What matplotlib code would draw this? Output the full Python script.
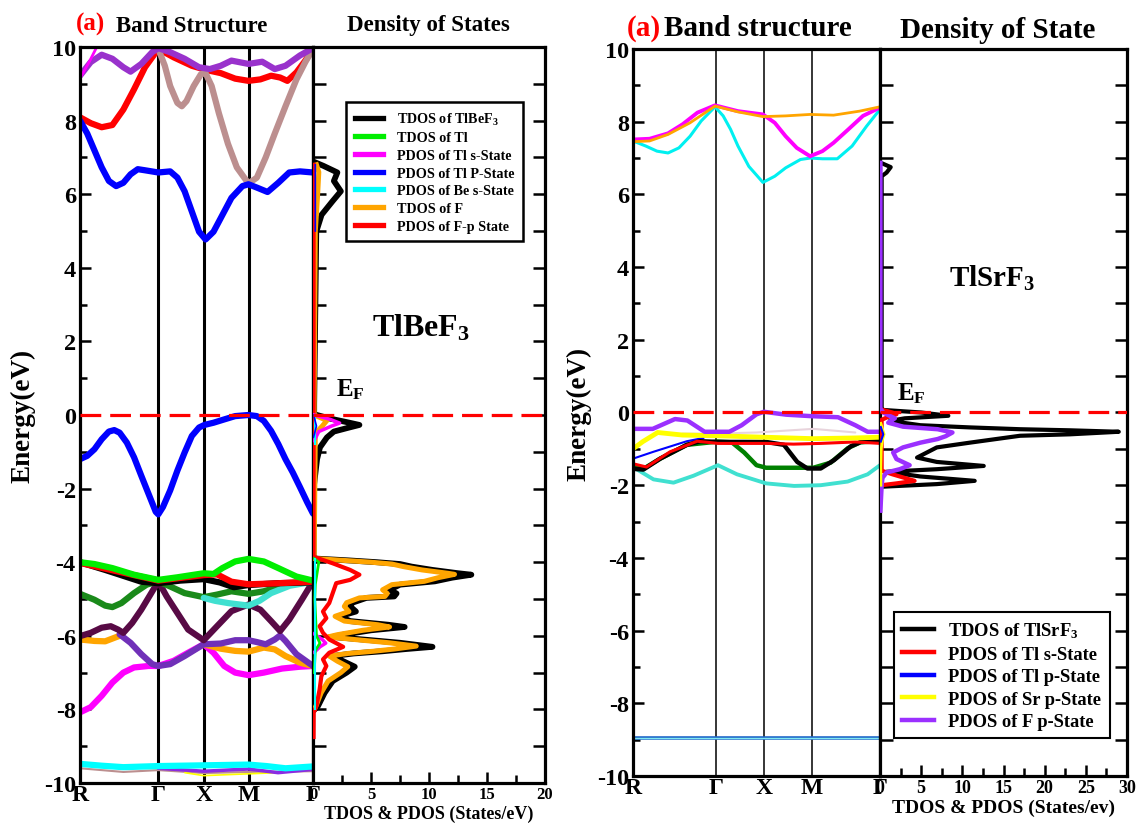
import numpy as np
import matplotlib
matplotlib.use('Agg')
import matplotlib.pyplot as plt
from matplotlib.lines import Line2D
from matplotlib.ticker import MultipleLocator

plt.rcParams['font.family'] = ['Liberation Serif', 'DejaVu Serif']
plt.rcParams['font.weight'] = 'bold'
plt.rcParams['axes.labelweight'] = 'bold'
plt.rcParams['mathtext.fontset'] = 'custom'
plt.rcParams['mathtext.rm'] = 'Liberation Serif:bold'
plt.rcParams['mathtext.it'] = 'Liberation Serif:bold'
plt.rcParams['mathtext.bf'] = 'Liberation Serif:bold'
plt.rcParams['mathtext.default'] = 'rm'

# high symmetry path (fraction of total path length)
kpath_pos = [0.0, 0.336, 0.531, 0.725, 1.0]
kpath_lab = ['R', 'Γ', 'X', 'M', 'Γ']
energy_ticks = [-10, -8, -6, -4, -2, 0, 2, 4, 6, 8, 10]

# ---------------- TlBeF3 bands (k, E) ----------------
be_purple_top = [(0, 9.22), (0.046, 9.59), (0.093, 9.79), (0.139, 9.68), (0.186, 9.45), (0.217, 9.33), (0.263, 9.54),
                 (0.31, 9.86), (0.336, 9.97), (0.387, 9.86), (0.449, 9.68), (0.511, 9.45), (0.557, 9.4), (0.604, 9.49),
                 (0.65, 9.63), (0.723, 9.54), (0.782, 9.6), (0.836, 9.4), (0.882, 9.49), (0.944, 9.77), (1.0, 9.97)]
be_red_top = [(0, 8.09), (0.046, 7.93), (0.093, 7.82), (0.139, 7.88), (0.186, 8.3), (0.232, 8.85), (0.279, 9.45),
              (0.336, 9.95), (0.402, 9.72), (0.48, 9.49), (0.539, 9.38), (0.604, 9.29), (0.666, 9.14), (0.723, 9.08),
              (0.774, 9.12), (0.82, 9.22), (0.859, 9.17), (0.89, 9.08), (0.929, 9.31), (0.967, 9.63), (1.0, 9.95)]
be_brown = [(0.336, 9.95), (0.364, 9.49), (0.387, 8.94), (0.418, 8.48), (0.437, 8.39), (0.457, 8.53), (0.488, 8.94),
            (0.519, 9.26), (0.539, 9.29), (0.565, 8.94), (0.596, 8.2), (0.635, 7.37), (0.673, 6.73), (0.723, 6.29),
            (0.759, 6.45), (0.797, 7.0), (0.836, 7.65), (0.882, 8.39), (0.929, 9.12), (0.967, 9.59), (1.0, 9.95)]
be_magenta_top = [(0, 9.15), (0.04, 9.6), (0.08, 10.1)]
be_blue_cb = [(0, 8.0), (0.031, 7.65), (0.062, 7.19), (0.093, 6.73), (0.124, 6.36), (0.155, 6.22), (0.186, 6.31),
              (0.217, 6.54), (0.248, 6.68), (0.279, 6.65), (0.336, 6.59), (0.387, 6.62), (0.418, 6.45),
              (0.449, 6.08), (0.48, 5.53), (0.511, 4.98), (0.539, 4.77), (0.573, 4.98), (0.604, 5.35), (0.65, 5.9),
              (0.697, 6.22), (0.723, 6.27), (0.759, 6.18), (0.805, 6.06), (0.851, 6.31), (0.898, 6.59),
              (0.944, 6.62), (1.0, 6.59)]
be_blue_vb = [(0, -1.2), (0.031, -1.11), (0.062, -0.93), (0.093, -0.66), (0.124, -0.45), (0.147, -0.41),
              (0.17, -0.48), (0.201, -0.75), (0.232, -1.15), (0.263, -1.65), (0.294, -2.14), (0.325, -2.63),
              (0.336, -2.7), (0.356, -2.5), (0.387, -2.05), (0.418, -1.51), (0.449, -1.02), (0.48, -0.57),
              (0.511, -0.34), (0.534, -0.27), (0.573, -0.21), (0.619, -0.12), (0.666, -0.03), (0.723, 0.0),
              (0.759, -0.03), (0.789, -0.16), (0.82, -0.43), (0.851, -0.79), (0.882, -1.2), (0.913, -1.56),
              (0.944, -1.96), (0.975, -2.37), (1.0, -2.68)]
be_lime = [(0, -4.0), (0.062, -4.05), (0.139, -4.16), (0.232, -4.34), (0.336, -4.48), (0.418, -4.41), (0.531, -4.3),
           (0.573, -4.32), (0.611, -4.16), (0.666, -3.98), (0.723, -3.91), (0.789, -3.98), (0.851, -4.16),
           (0.929, -4.39), (1.0, -4.5)]
be_black = [(0, -4.0), (0.108, -4.21), (0.263, -4.53), (0.336, -4.57), (0.43, -4.5), (0.531, -4.46), (0.6, -4.55),
            (0.66, -4.68), (0.723, -4.62), (0.85, -4.57), (1.0, -4.55)]
be_red_vb = [(0, -4.02), (0.336, -4.5), (0.531, -4.35), (0.588, -4.33), (0.65, -4.53), (0.723, -4.6), (0.82, -4.58),
             (1.0, -4.53)]
be_dkgreen = [(0, -4.86), (0.062, -5.02), (0.108, -5.18), (0.139, -5.22), (0.178, -5.11), (0.232, -4.84),
              (0.286, -4.61), (0.336, -4.52), (0.387, -4.66), (0.449, -4.84), (0.531, -4.95), (0.588, -4.88),
              (0.65, -4.79), (0.723, -4.86), (0.789, -4.79), (0.867, -4.64), (0.944, -4.55), (1.0, -4.52)]
be_turq = [(0.531, -4.97), (0.58, -5.05), (0.635, -5.11), (0.723, -5.18), (0.77, -5.05), (0.82, -4.84),
           (0.9, -4.64), (1.0, -4.53)]
be_maroon = [(0, -6.01), (0.046, -5.92), (0.093, -5.78), (0.132, -5.74), (0.163, -5.83), (0.186, -5.92),
             (0.224, -5.65), (0.263, -5.29), (0.302, -4.88), (0.336, -4.52), (0.372, -4.93), (0.418, -5.38),
             (0.464, -5.83), (0.531, -6.12), (0.588, -5.74), (0.65, -5.33), (0.723, -5.15), (0.774, -5.29),
             (0.82, -5.6), (0.859, -5.87), (0.898, -5.56), (0.952, -5.02), (1.0, -4.52)]
be_orange_a = [(0, -6.1), (0.062, -6.14), (0.108, -6.15), (0.17, -6.0)]
be_orange_b = [(0.531, -6.23), (0.604, -6.35), (0.666, -6.41), (0.723, -6.43), (0.789, -6.32), (0.836, -6.37),
               (0.882, -6.55), (0.944, -6.73), (1.0, -6.82)]
be_purple = [(0.17, -5.96), (0.217, -6.19), (0.263, -6.5), (0.31, -6.77), (0.336, -6.82), (0.387, -6.77),
             (0.449, -6.55), (0.531, -6.23), (0.604, -6.21), (0.666, -6.12), (0.723, -6.12), (0.759, -6.17),
             (0.797, -6.23), (0.836, -6.1), (0.859, -5.99), (0.882, -6.14), (0.929, -6.5), (1.0, -6.82)]
be_magenta = [(0, -8.08), (0.046, -7.94), (0.093, -7.63), (0.139, -7.27), (0.186, -7.0), (0.232, -6.86),
              (0.294, -6.82), (0.336, -6.82), (0.402, -6.68), (0.464, -6.46), (0.531, -6.23), (0.573, -6.46),
              (0.619, -6.82), (0.666, -7.0), (0.723, -7.07), (0.789, -7.0), (0.867, -6.89), (0.944, -6.84),
              (1.0, -6.82)]
be_cyan = [(0, -9.48), (0.093, -9.53), (0.186, -9.57), (0.336, -9.54), (0.531, -9.52), (0.723, -9.5), (0.8, -9.54),
           (0.882, -9.6), (1.0, -9.55)]
be_brown_low = [(0, -9.6), (0.186, -9.7), (0.336, -9.65), (0.531, -9.73), (0.723, -9.7), (1.0, -9.68)]
be_purple_low = [(0.336, -9.6), (0.531, -9.68), (0.723, -9.62), (0.85, -9.72), (1.0, -9.63)]
be_yellow_low = [(0.45, -9.72), (0.531, -9.8), (0.723, -9.75), (0.85, -9.72)]

# ---------------- TlBeF3 DOS (E, states/eV) ----------------
be_tdos_e = [6.85, 6.77, 6.59, 6.36, 6.08, 5.8, 5.44, 4.98, 0.3, 0.02, -0.1, -0.2, -0.27, -0.35, -0.45, -0.61,
             -0.88, -1.2, -1.6, -2.0, -3.85, -3.9, -3.95, -4.0, -4.05, -4.12, -4.21, -4.3, -4.34, -4.42, -4.52,
             -4.61, -4.75, -4.85, -4.93, -4.97, -5.1, -5.2, -5.34, -5.47, -5.6, -5.7, -5.76, -5.85, -5.97, -6.03,
             -6.12, -6.19, -6.3, -6.36, -6.42, -6.48, -6.55, -6.69, -6.84, -7.0, -7.23, -7.55, -7.91, -8.0]
be_tdos_v = [0.3, 0.9, 2.1, 1.8, 2.4, 1.66, 0.74, 0.28, 0.1, 0.1, 1.5, 3.0, 4.0, 3.0, 1.8, 1.2,
             0.6, 0.35, 0.2, 0.05, 0.05, 0.1, 3.0, 5.5, 7.5, 8.5, 10.3, 12.5, 13.65, 12.0, 10.5,
             7.5, 6.6, 7.2, 7.0, 4.6, 3.4, 3.2, 3.7, 2.3, 3.2, 6.5, 7.9, 5.0, 2.6, 1.7,
             5.0, 7.5, 10.3, 8.0, 6.0, 3.5, 1.7, 2.6, 3.6, 2.9, 1.7, 1.0, 0.43, 0.14]
be_fdos_e = [6.8, 6.6, 6.0, 5.0, 0.3, 0.0, -0.15, -0.3, -0.5, -3.85, -3.9, -3.95, -4.0, -4.05, -4.12, -4.21,
             -4.3, -4.33, -4.42, -4.52, -4.61, -4.75, -4.85, -4.93, -4.97, -5.1, -5.2, -5.34, -5.47, -5.6, -5.7,
             -5.76, -5.85, -5.97, -6.03, -6.12, -6.19, -6.28, -6.36, -6.42, -6.48, -6.55, -6.69, -6.84, -7.0,
             -7.23, -7.55, -7.91, -8.0]
be_fdos_v = [0.3, 0.5, 0.4, 0.2, 0.1, 0.1, 1.2, 0.8, 0.2, 0.1, 0.1, 2.6, 5.0, 6.8, 7.8, 9.4,
             11.6, 12.2, 10.8, 9.6, 6.8, 6.0, 6.4, 6.2, 4.0, 2.9, 2.7, 3.1, 1.9, 2.7, 5.6,
             6.6, 4.3, 2.1, 1.3, 4.2, 6.6, 8.9, 7.0, 5.2, 3.0, 1.4, 2.1, 3.0, 2.4,
             1.3, 0.7, 0.25, 0.1]
be_fp_e = [6.8, -3.85, -3.94, -4.03, -4.21, -4.34, -4.48, -4.57, -4.84, -5.11, -5.34, -5.52, -5.74, -5.92, -6.1,
           -6.3, -6.46, -6.64, -6.82, -7.1, -7.46, -7.91, -8.09, -8.75]
be_fp_v = [0.05, 0.05, 0.86, 1.7, 3.2, 4.0, 3.2, 2.0, 1.7, 1.4, 0.86, 1.15, 0.57, 0.86, 1.4,
           2.6, 1.4, 0.86, 1.15, 0.72, 0.57, 0.29, 0.06, 0.05]
be_tls_e = [0.0, -0.12, -0.22, -0.3, -0.45, -0.7, np.nan, -5.95, -6.1, -6.2, -6.3, -6.45]
be_tls_v = [0.1, 1.5, 2.3, 1.6, 0.5, 0.1, np.nan, 0.1, 0.8, 1.1, 0.6, 0.1]
be_tl_e = [-3.9, -4.0, -4.2, -4.4, -4.6, -5.0, -6.0, -6.2, -6.4, -7.0]
be_tl_v = [0.1, 0.5, 0.4, 0.3, 0.2, 0.15, 0.3, 0.6, 0.2, 0.1]
be_bes_e = [0.0, -0.8, np.nan, -3.9, -8.0]
be_bes_v = [0.15, 0.15, np.nan, 0.15, 0.15]
be_tlp_e = [6.8, 5.0, np.nan, 0.0, -0.3, -0.6]
be_tlp_v = [0.2, 0.2, np.nan, 0.05, 0.3, 0.05]

be_leg_labels = ['TDOS of TlBeF$_3$', 'TDOS of Tl', 'PDOS of Tl s-State', 'PDOS of Tl P-State',
                 'PDOS of Be s-State', 'TDOS of F', 'PDOS of F-p State']
be_leg_colors = ['black', '#00ee00', '#ff00ff', '#0000ff', '#00ffff', '#ffa500', '#ff0000']

# ---------------- TlSrF3 bands (k, E) ----------------
sr_magenta = [(0, 7.51), (0.067, 7.53), (0.142, 7.68), (0.201, 7.93), (0.261, 8.25), (0.332, 8.45), (0.425, 8.29),
              (0.526, 8.2), (0.574, 7.97), (0.618, 7.6), (0.663, 7.28), (0.717, 7.05), (0.767, 7.19), (0.812, 7.42),
              (0.872, 7.79), (0.931, 8.16), (1.0, 8.39)]
sr_orange = [(0, 7.45), (0.067, 7.47), (0.142, 7.65), (0.231, 7.97), (0.332, 8.43), (0.425, 8.27), (0.526, 8.14),
             (0.618, 8.16), (0.717, 8.2), (0.812, 8.18), (0.917, 8.29), (1.0, 8.41)]
sr_cyan = [(0, 7.47), (0.052, 7.33), (0.097, 7.19), (0.142, 7.14), (0.186, 7.28), (0.231, 7.6), (0.276, 8.02),
           (0.332, 8.41), (0.365, 8.16), (0.395, 7.79), (0.425, 7.33), (0.469, 6.77), (0.526, 6.33), (0.574, 6.5),
           (0.618, 6.73), (0.678, 6.96), (0.717, 7.0), (0.767, 6.98), (0.827, 6.98), (0.887, 7.33), (0.946, 7.88),
           (1.0, 8.34)]
sr_purple = [(0, -0.45), (0.08, -0.45), (0.17, -0.18), (0.22, -0.22), (0.29, -0.53), (0.39, -0.53), (0.44, -0.35),
             (0.5, -0.05), (0.53, 0.02), (0.62, -0.06), (0.72, -0.1), (0.83, -0.13), (0.9, -0.35), (0.95, -0.53),
             (1.0, -0.53)]
sr_yellow = [(0, -1.0), (0.04, -0.8), (0.1, -0.55), (0.2, -0.62), (0.34, -0.64), (0.53, -0.68), (0.73, -0.72),
             (0.9, -0.7), (1.0, -0.68)]
sr_faint = [(0.2, -0.58), (0.34, -0.58), (0.5, -0.55), (0.73, -0.45), (0.9, -0.55)]
sr_black = [(0, -1.55), (0.042, -1.57), (0.11, -1.27), (0.218, -0.89), (0.272, -0.79), (0.344, -0.81),
            (0.539, -0.81), (0.611, -0.89), (0.665, -1.36), (0.706, -1.54), (0.76, -1.54), (0.814, -1.31),
            (0.882, -0.93), (0.923, -0.81), (1.0, -0.79)]
sr_red = [(0, -1.41), (0.055, -1.5), (0.15, -1.08), (0.26, -0.79), (0.344, -0.85), (0.539, -0.85), (0.65, -0.87),
          (0.76, -0.85), (0.9, -0.81), (1.0, -0.85)]
sr_blue = [(0, -1.27), (0.083, -1.08), (0.218, -0.79), (0.286, -0.7)]
sr_green = [(0, -1.5), (0.042, -1.55), (0.11, -1.27), (0.218, -0.89), (0.344, -0.8), (0.4, -0.82), (0.45, -1.1),
            (0.5, -1.45), (0.539, -1.52), (0.73, -1.52), (0.8, -1.38), (0.87, -0.98), (0.92, -0.82), (1.0, -0.79)]
sr_turq = [(0, -1.5), (0.083, -1.84), (0.164, -1.93), (0.245, -1.74), (0.344, -1.45), (0.421, -1.7), (0.539, -1.95),
           (0.652, -2.02), (0.76, -2.0), (0.869, -1.9), (0.95, -1.7), (1.0, -1.45)]
sr_flat = [(0, -8.95), (1.0, -8.95)]

# ---------------- TlSrF3 DOS (E, states/eV) ----------------
sr_tdos_e = [6.85, 6.75, 6.6, 6.5, 0.12, 0.07, 0.0, -0.09, -0.16, -0.23, -0.35, -0.41, -0.46, -0.49, -0.53, -0.6,
             -0.64, -0.83, -0.96, -1.24, -1.36, -1.47, -1.56, -1.63, -1.76, -1.88, -1.97, -2.04]
sr_tdos_v = [0.3, 1.3, 0.8, 0.2, 0.2, 0.4, 5.0, 8.3, 3.0, 1.2, 4.9, 10.9, 17.0, 23.1, 29.0, 23.1,
             17.0, 10.9, 6.9, 4.5, 6.9, 12.6, 6.9, 0.8, 4.9, 11.5, 6.9, 0.4]
sr_fp_e = [6.87, 0.1, 0.0, -0.05, -0.16, -0.28, -0.39, -0.46, -0.55, -0.65, -0.73, -0.83, -0.96, -1.1, -1.28,
           -1.45, -1.56, -1.65, -1.8, -2.0, -2.7]
sr_fp_v = [0.05, 0.05, 0.4, 0.8, 1.8, 1.0, 2.8, 7.0, 8.8, 8.0, 7.0, 4.9, 2.8, 1.6, 2.0,
           3.6, 2.4, 0.8, 0.3, 0.2, 0.05]
sr_tls_e = [0.08, 0.0, -0.05, -0.12, -0.2, -1.6, -1.7, -1.8, -1.88, -1.95, -2.0]
sr_tls_v = [0.2, 1.5, 2.0, 1.0, 0.2, 0.2, 1.5, 3.0, 4.2, 2.0, 0.2]
sr_srp_e = [-0.3, -0.45, -0.6, -0.75, -1.0, -1.5, -2.0]
sr_srp_v = [0.1, 0.3, 0.5, 0.3, 0.15, 0.1, 0.1]
sr_tlp_e = [-0.4, -0.6, -0.8]
sr_tlp_v = [0.1, 0.4, 0.1]

sr_leg_labels = ['TDOS of TlSrF$_3$', 'PDOS of Tl s-State', 'PDOS of Tl p-State', 'PDOS of Sr p-State',
                 'PDOS of F p-State']
sr_leg_colors = ['black', '#ff0000', '#0000ff', '#ffff00', '#9b30ff']

W, H = 1136, 828
fig = plt.figure(figsize=(W / 100, H / 100), dpi=100)


def px_axes(l, t, r, b):
    return fig.add_axes([l / W, 1 - b / H, (r - l) / W, (b - t) / H])


def draw_band(ax, pts, col, lw):
    k = [p[0] for p in pts]
    e = [p[1] for p in pts]
    ax.plot(k, e, color=col, lw=lw, solid_joinstyle='round', solid_capstyle='round')


def style_band(ax, vlw, ylab_x):
    ax.set_xlim(0, 1)
    for k in kpath_pos[1:-1]:
        ax.axvline(k, color='black', lw=vlw, zorder=1)
    ax.set_xticks(kpath_pos)
    ax.set_xticklabels(kpath_lab, fontsize=17, fontweight='bold')
    ax.tick_params(axis='x', length=0, pad=1)
    ax.set_yticks(energy_ticks)
    ax.set_yticklabels([str(v) for v in energy_ticks], fontweight='bold')
    ax.yaxis.set_minor_locator(MultipleLocator(1))
    ax.tick_params(axis='y', which='major', direction='in', length=8, width=1.8, labelsize=17.5, pad=3)
    ax.tick_params(axis='y', which='minor', direction='in', length=5, width=1.8)
    ax.set_ylim(-10, 10)
    ax.set_ylabel('Energy(eV)', fontsize=19.5, fontweight='bold')
    ax.yaxis.set_label_coords(ylab_x, 0.5)
    for s in ax.spines.values():
        s.set_linewidth(2.3)
    ax.axhline(0, color='red', lw=2.3, dashes=(6.5, 2.8), zorder=4)


def style_dos(ax, xmax, xlab, xlab_size, tick_size):
    xt = list(range(0, xmax + 1, 5))
    ax.set_xticks(xt)
    ax.set_xticklabels([str(v) for v in xt], fontweight='bold')
    ax.xaxis.set_minor_locator(MultipleLocator(2.5))
    ax.set_yticks(energy_ticks)
    ax.yaxis.set_minor_locator(MultipleLocator(1))
    ax.set_xlim(0, xmax)
    ax.set_ylim(-10, 10)
    ax.tick_params(axis='x', which='major', direction='in', length=8, width=1.8, labelsize=tick_size, pad=2)
    ax.tick_params(axis='x', which='minor', direction='in', length=6, width=1.8)
    ax.tick_params(axis='y', which='both', direction='in', left=True, right=True, labelleft=False,
                   length=9, width=1.8)
    ax.set_xlabel(xlab, fontsize=xlab_size, fontweight='bold', labelpad=2)
    for s in ax.spines.values():
        s.set_linewidth(2.3)
    ax.axhline(0, color='red', lw=2.3, dashes=(6.5, 2.8), zorder=4)


# ======================= left: TlBeF3 =======================
ax1 = px_axes(80, 48, 313, 784)
lw1 = 4.5
draw_band(ax1, be_red_top, '#ff0000', lw1)
draw_band(ax1, be_brown, '#bc8f8f', lw1)
draw_band(ax1, be_purple_top, '#9932cc', lw1)
draw_band(ax1, be_magenta_top, '#ff00ff', 2.0)
draw_band(ax1, be_blue_cb, '#0000ff', lw1)
draw_band(ax1, be_blue_vb, '#0000ff', lw1)
draw_band(ax1, be_magenta, '#ff00ff', lw1)
draw_band(ax1, be_orange_a, '#ffa500', lw1)
draw_band(ax1, be_orange_b, '#ffa500', lw1)
draw_band(ax1, be_purple, '#7030b8', lw1)
draw_band(ax1, be_maroon, '#580a45', lw1)
draw_band(ax1, be_dkgreen, '#1a8a1a', lw1)
draw_band(ax1, be_turq, '#40e0d0', lw1)
draw_band(ax1, be_black, '#000000', lw1)
draw_band(ax1, be_red_vb, '#ff0000', lw1)
draw_band(ax1, be_lime, '#00ee00', lw1)
draw_band(ax1, be_brown_low, '#bc8f8f', 1.5)
draw_band(ax1, be_yellow_low, '#ffff00', 1.2)
draw_band(ax1, be_purple_low, '#8a2be2', 2.5)
draw_band(ax1, be_cyan, '#00ffff', lw1)
style_band(ax1, 2.2, -0.19)

ax2 = px_axes(313, 48, 545, 784)
dkw = dict(solid_joinstyle='round', zorder=3)
ax2.plot(be_tdos_v, be_tdos_e, color='black', lw=4.2, **dkw)
ax2.plot(be_fdos_v, be_fdos_e, color='#ffa500', lw=3.6, **dkw)
ax2.plot(be_fp_v, be_fp_e, color='#ff0000', lw=3.0, **dkw)
ax2.plot(be_tls_v, be_tls_e, color='#ff00ff', lw=2.5, **dkw)
ax2.plot(be_tl_v, be_tl_e, color='#00ee00', lw=2.0, **dkw)
ax2.plot(be_bes_v, be_bes_e, color='#00ffff', lw=1.5, **dkw)
ax2.plot(be_tlp_v, be_tlp_e, color='#0000ff', lw=1.2, **dkw)
style_dos(ax2, 20, 'TDOS & PDOS (States/eV)', 13, 12)
ax2.text(9.3, 2.15, 'TlBeF$_3$', fontsize=23, fontweight='bold', ha='center', va='baseline')
ax2.text(2.0, 0.52, 'E$_\\mathregular{F}$', fontsize=18, fontweight='bold', ha='left', va='baseline')
h1 = [Line2D([], [], color=c, lw=3.8) for c in be_leg_colors]
leg1 = ax2.legend(h1, be_leg_labels, loc='upper left', bbox_to_anchor=(346 / W, 1 - 103 / H),
                  bbox_transform=fig.transFigure, borderaxespad=0, fancybox=False, framealpha=1,
                  edgecolor='black', prop={'family': 'Liberation Serif', 'weight': 'bold', 'size': 10.2},
                  handlelength=2.0, handletextpad=1.0, labelspacing=0.33, borderpad=0.6)
leg1.get_frame().set_linewidth(1.8)

fig.text(76 / W, 1 - 24 / H, '(a)', color='red', fontsize=18, fontweight='bold', va='center')
fig.text(116 / W, 1 - 26 / H, 'Band Structure', fontsize=16.5, fontweight='bold', va='center')
fig.text(347 / W, 1 - 26 / H, 'Density of States', fontsize=16.5, fontweight='bold', va='center')

# ======================= right: TlSrF3 =======================
ax3 = px_axes(633, 50, 880, 777)
draw_band(ax3, sr_flat, '#1e64c8', 2.6)
draw_band(ax3, sr_flat, '#7fe8f0', 1.0)
draw_band(ax3, sr_cyan, '#00f0f0', 2.2)
draw_band(ax3, sr_magenta, '#ff00ff', 2.8)
draw_band(ax3, sr_orange, '#ffa500', 2.0)
draw_band(ax3, sr_faint, '#e8d4dc', 1.5)
draw_band(ax3, sr_turq, '#40e0d0', 2.8)
draw_band(ax3, sr_blue, '#0000ff', 1.5)
draw_band(ax3, sr_green, '#008000', 3.2)
draw_band(ax3, sr_black, '#000000', 3.2)
draw_band(ax3, sr_red, '#ff0000', 2.2)
draw_band(ax3, sr_yellow, '#ffff00', 3.5)
draw_band(ax3, sr_purple, '#9b30ff', 3.2)
style_band(ax3, 1.1, -0.166)

ax4 = px_axes(880, 50, 1127, 777)
ax4.plot(sr_tdos_v, sr_tdos_e, color='black', lw=3.0, **dkw)
ax4.plot(sr_tls_v, sr_tls_e, color='#ff0000', lw=3.0, **dkw)
ax4.plot(sr_fp_v, sr_fp_e, color='#9b30ff', lw=3.2, **dkw)
ax4.plot(sr_srp_v, sr_srp_e, color='#ffff00', lw=2.0, **dkw)
ax4.plot(sr_tlp_v, sr_tlp_e, color='#0000ff', lw=1.5, **dkw)
style_dos(ax4, 30, 'TDOS & PDOS (States/ev)', 14, 13)
ax4.text(13.6, 3.48, 'TlSrF$_3$', fontsize=21, fontweight='bold', ha='center', va='baseline')
ax4.text(2.1, 0.37, 'E$_\\mathregular{F}$', fontsize=18, fontweight='bold', ha='left', va='baseline')
h2 = [Line2D([], [], color=c, lw=3.2) for c in sr_leg_colors]
leg2 = ax4.legend(h2, sr_leg_labels, loc='upper left', bbox_to_anchor=(894 / W, 1 - 613 / H),
                  bbox_transform=fig.transFigure, borderaxespad=0, fancybox=False, framealpha=1,
                  edgecolor='black', prop={'family': 'Liberation Serif', 'weight': 'bold', 'size': 13.3},
                  handlelength=1.7, handletextpad=0.8, labelspacing=0.3, borderpad=0.45)
leg2.get_frame().set_linewidth(1.5)

fig.text(627 / W, 1 - 29 / H, '(a)', color='red', fontsize=21, fontweight='bold', va='center')
fig.text(664 / W, 1 - 29 / H, 'Band structure', fontsize=21, fontweight='bold', va='center')
fig.text(900 / W, 1 - 31 / H, 'Density of State', fontsize=21, fontweight='bold', va='center')

fig.savefig('out.png', dpi=100)
